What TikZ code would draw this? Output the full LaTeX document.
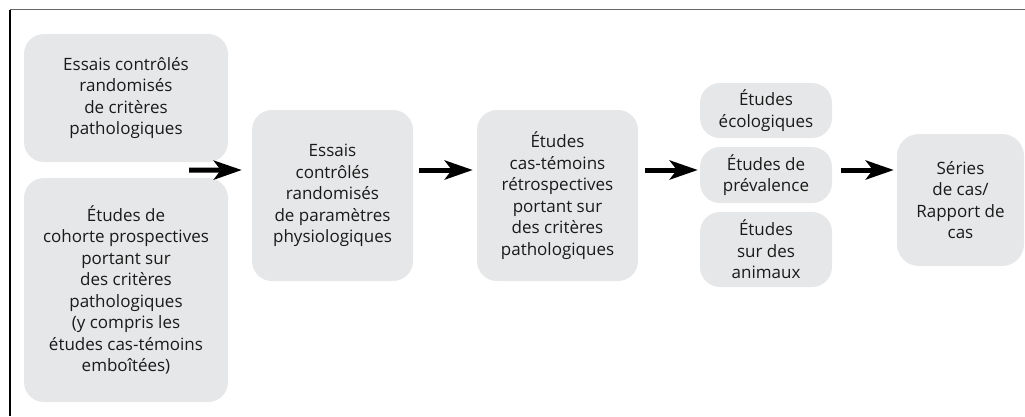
\documentclass[tikz,border=0pt]{standalone}
\usepackage{fontspec}
\setmainfont{Open Sans}
\usetikzlibrary{arrows.meta,calc}
\definecolor{boxgray}{HTML}{E6E7E8}
\definecolor{txt}{HTML}{1A1A1A}
\begin{document}
\begin{tikzpicture}[x=1pt,y=-1pt,
  box/.style={fill=boxgray,draw=none,rounded corners=20pt,align=center,
    text=txt,font=\fontsize{17}{21.5}\selectfont,inner sep=0pt},
  arr/.style={line width=5pt,-{Stealth[length=28pt,width=19pt,inset=7pt]}}]
\useasboundingbox (0,0) rectangle (1025,416);
\draw[line width=1.5pt,color=black!60] (10,9.5) -- (1025,9.5);
\draw[line width=1.5pt] (10,9.5) -- (10,416);
% boxes
\node[box,minimum width=204pt,minimum height=128pt] (b1) at (126,98)
  {Essais contrôlés\\randomisés\\de critères\\pathologiques};
\node[box,minimum width=204pt,minimum height=224pt] (b2) at (126,290)
  {Études de\\cohorte prospectives\\portant sur\\des critères\\pathologiques\\(y compris les\\études cas-témoins\\emboîtées)};
\node[box,minimum width=161pt,minimum height=171pt] (b3) at (332.5,195.5)
  {Essais\\contrôlés\\randomisés\\de paramètres\\physiologiques};
\node[box,minimum width=161pt,minimum height=171pt] (b4) at (557.5,195.5)
  {Études\\cas-témoins\\rétrospectives\\portant sur\\des critères\\pathologiques};
\node[box,minimum width=132pt,minimum height=55pt] (b5) at (766,110.5)
  {Études\\écologiques};
\node[box,minimum width=132pt,minimum height=56pt] (b6) at (766,175)
  {Études de\\prévalence};
\node[box,minimum width=132pt,minimum height=75pt] (b7) at (766,249.5)
  {Études\\sur des\\animaux};
\node[box,minimum width=127pt,minimum height=132pt,rounded corners=22pt] (b8) at (960.5,200)
  {Séries\\de cas/\\Rapport de\\cas};
% arrows
\draw[arr] ($(b1.south east)+(-39,8)$) -- ($(b3.west)+(-10,-25.5)$);
\draw[arr] ($(b3.east)+(6,-25.5)$) -- ($(b4.west)+(-4,-25.5)$);
\draw[arr] ($(b4.east)+(7,-25.5)$) -- ($(b6.west)+(-2,-5)$);
\draw[arr] ($(b6.east)+(9,-5)$) -- ($(b8.west)+(-3,-30)$);
\end{tikzpicture}
\end{document}
